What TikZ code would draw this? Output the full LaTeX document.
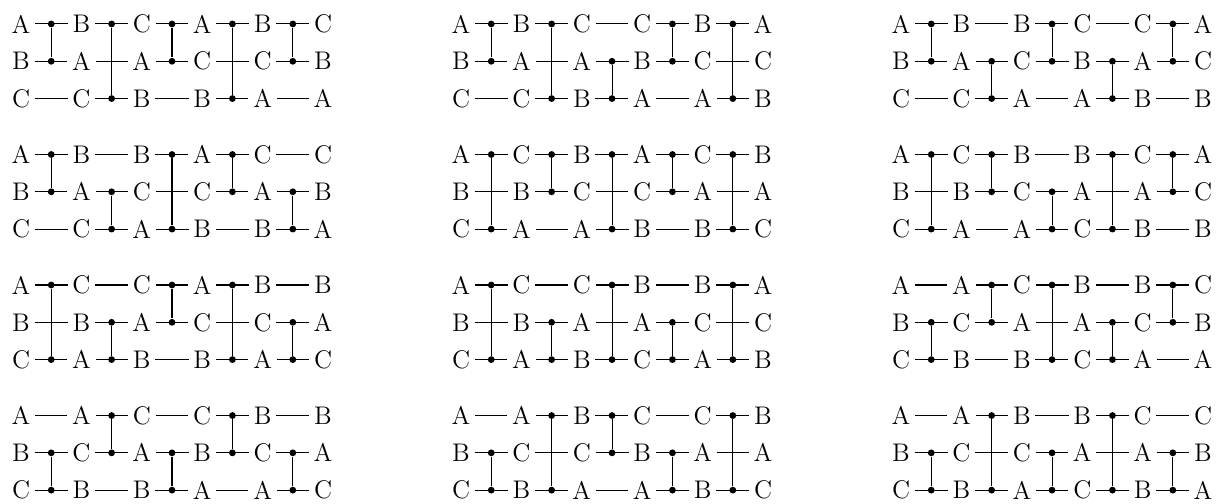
\documentclass[tikz,border=0pt]{standalone}
\usepackage{amsmath, amssymb, amsfonts}
\usepackage{tikz}
\usetikzlibrary{calc}

\tikzset{
	letter/.style={inner sep=2pt,font=\fontsize{12}{14}\selectfont},
	swapdot/.style={circle,fill,inner sep=0pt,minimum size=3.2pt}
}
\def\colsep{1}
\def\rowsep{0.6175}

% #1 name, #2/#3 top left letter, #4-#6 rows, #7 swapped rows per gap
\newcommand{\swapnet}[7]{%
	\foreach \lt [count=\k] in {#4} \node[letter] (#1-1-\k) at ({#2+(\k-1)*\colsep},{#3}) {\lt};
	\foreach \lt [count=\k] in {#5} \node[letter] (#1-2-\k) at ({#2+(\k-1)*\colsep},{#3-\rowsep}) {\lt};
	\foreach \lt [count=\k] in {#6} \node[letter] (#1-3-\k) at ({#2+(\k-1)*\colsep},{#3-2*\rowsep}) {\lt};
	\foreach \ra/\rb [count=\k] in {#7} {
		\pgfmathtruncatemacro\kn{\k+1}
		\foreach \r in {1,2,3} \draw (#1-\r-\k) -- (#1-\r-\kn);
		\node[swapdot] (#1-u-\k) at ($(#1-\ra-\k)!.5!(#1-\ra-\kn)$) {};
		\node[swapdot] (#1-v-\k) at ($(#1-\rb-\k)!.5!(#1-\rb-\kn)$) {};
		\draw (#1-u-\k) -- (#1-v-\k);
	}%
}

\begin{document}
\begin{tikzpicture}[line width=0.5pt]
	\useasboundingbox (0,0) rectangle (20.265,8.344);
	% first row of networks
	\swapnet{n1}{0.348}{7.947}{A,B,C,A,B,C}{B,A,A,C,C,B}{C,C,B,B,A,A}{1/2,1/3,1/2,1/3,1/2}
	\swapnet{n2}{7.633}{7.947}{A,B,C,C,B,A}{B,A,A,B,C,C}{C,C,B,A,A,B}{1/2,1/3,2/3,1/2,1/3}
	\swapnet{n3}{14.918}{7.947}{A,B,B,C,C,A}{B,A,C,B,A,C}{C,C,A,A,B,B}{1/2,2/3,1/2,2/3,1/2}
	% second row
	\swapnet{n4}{0.348}{5.786}{A,B,B,A,C,C}{B,A,C,C,A,B}{C,C,A,B,B,A}{1/2,2/3,1/3,1/2,2/3}
	\swapnet{n5}{7.633}{5.786}{A,C,B,A,C,B}{B,B,C,C,A,A}{C,A,A,B,B,C}{1/3,1/2,1/3,1/2,1/3}
	\swapnet{n6}{14.918}{5.786}{A,C,B,B,C,A}{B,B,C,A,A,C}{C,A,A,C,B,B}{1/3,1/2,2/3,1/3,1/2}
	% third row
	\swapnet{n7}{0.348}{3.625}{A,C,C,A,B,B}{B,B,A,C,C,A}{C,A,B,B,A,C}{1/3,2/3,1/2,1/3,2/3}
	\swapnet{n8}{7.633}{3.625}{A,C,C,B,B,A}{B,B,A,A,C,C}{C,A,B,C,A,B}{1/3,2/3,1/3,2/3,1/3}
	\swapnet{n9}{14.918}{3.625}{A,A,C,B,B,C}{B,C,A,A,C,B}{C,B,B,C,A,A}{2/3,1/2,1/3,2/3,1/2}
	% fourth row
	\swapnet{n10}{0.348}{1.464}{A,A,C,C,B,B}{B,C,A,B,C,A}{C,B,B,A,A,C}{2/3,1/2,2/3,1/2,2/3}
	\swapnet{n11}{7.633}{1.464}{A,A,B,C,C,B}{B,C,C,B,A,A}{C,B,A,A,B,C}{2/3,1/3,1/2,2/3,1/3}
	\swapnet{n12}{14.918}{1.464}{A,A,B,B,C,C}{B,C,C,A,A,B}{C,B,A,C,B,A}{2/3,1/3,2/3,1/3,2/3}
\end{tikzpicture}
\end{document}
